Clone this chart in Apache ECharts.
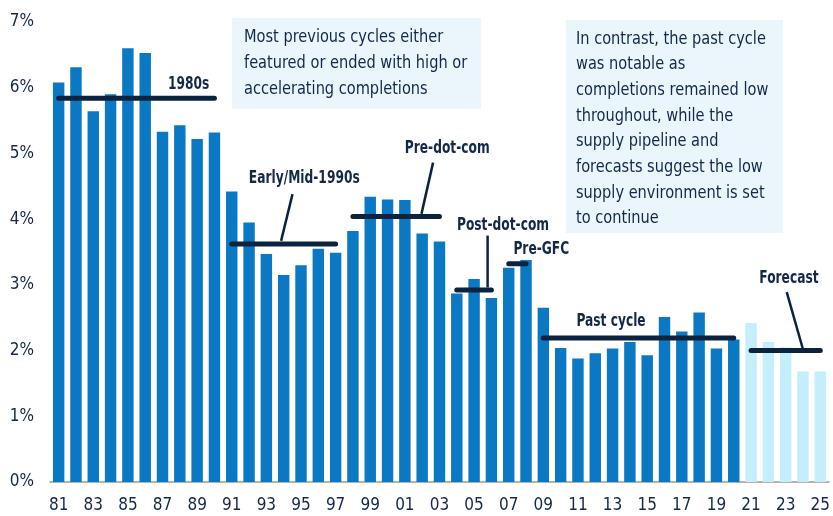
<!DOCTYPE html>
<html>
<head>
<meta charset="utf-8">
<script src="https://cdn.jsdelivr.net/npm/echarts@6/dist/echarts.min.js"></script>
<style>
  html, body { margin: 0; padding: 0; background: #fff; }
  #chart { width: 833px; height: 516px; }
</style>
</head>
<body>
<div id="chart"></div>
<script>
const categories = ['81', '82', '83', '84', '85', '86', '87', '88', '89', '90',
  '91', '92', '93', '94', '95', '96', '97', '98', '99', '00',
  '01', '02', '03', '04', '05', '06', '07', '08', '09', '10',
  '11', '12', '13', '14', '15', '16', '17', '18', '19', '20',
  '21', '22', '23', '24', '25']

// completions as % of stock
const completions = [6.08, 6.31, 5.64, 5.90, 6.60, 6.53, 5.33, 5.43, 5.22, 5.32,
  4.42, 3.95, 3.47, 3.15, 3.30, 3.55, 3.49, 3.82, 4.34, 4.30,
  4.29, 3.78, 3.66, 2.87, 3.09, 2.80, 3.26, 3.38, 2.65, 2.04,
  1.88, 1.96, 2.03, 2.13, 1.93, 2.51, 2.29, 2.58, 2.03, 2.17,
  2.42, 2.13, 2.05, 1.68, 1.68]

const forecastFrom = '21'

const cycleNames = ['1980s', 'Early/Mid-1990s', 'Pre-dot-com', 'Post-dot-com', 'Pre-GFC', 'Past cycle', 'Forecast']
const cycleStart = ['81', '91', '98', '04', '07', '09', '21']
const cycleEnd = ['90', '97', '03', '06', '08', '20', '25']
const cycleAvg = [5.84, 3.62, 4.04, 2.92, 3.32, 2.19, 2.00]

const yTicks = [0, 1, 2, 3, 4, 5, 6, 7]

const NAVY = '#13284b'
const LINE = '#0c2340'
const FONT = "'Liberation Sans Narrow', 'DejaVu Sans Condensed', sans-serif"

// label anchors in data space: [category index, value]
const labelAnchors = [
  [7.51, 6.05], [14.19, 4.61], [22.45, 5.08], [25.67, 3.90],
  [27.88, 3.53], [31.91, 2.44], [42.19, 3.10],
]
// leader lines: [[ci, v], [ci, v]] or null
const leaders = [
  null,
  [[13.51, 4.38], [12.85, 3.67]],
  [[21.63, 4.86], [20.96, 4.08]],
  [[24.78, 3.75], [24.78, 2.96]],
  null,
  null,
  [[42.06, 2.89], [43.0, 2.02]],
]

const chart = echarts.init(document.getElementById('chart'))

const fIdx = categories.indexOf(forecastFrom)
const barData = completions.map((v, i) => ({
  value: v,
  itemStyle: { color: i >= fIdx ? '#c4eefb' : '#0a78c2' },
}))

const cycleSeries = cycleNames.map((name, k) => {
  const a = categories.indexOf(cycleStart[k])
  const b = categories.indexOf(cycleEnd[k])
  return {
    name,
    type: 'line',
    data: categories.map((c, i) => (i >= a && i <= b ? cycleAvg[k] : null)),
    showSymbol: false,
    silent: true,
    z: 5,
    lineStyle: { color: LINE, width: 5, cap: 'round' },
  }
})

chart.setOption({
  animation: false,
  textStyle: { fontFamily: FONT },
  grid: { left: 50, right: 2, top: 22, bottom: 34 },
  xAxis: {
    type: 'category',
    data: categories,
    axisTick: { show: false },
    axisLine: { lineStyle: { color: '#9a9a9a', width: 1.5 } },
    axisLabel: { interval: 1, color: NAVY, fontSize: 17, margin: 15, fontFamily: FONT },
  },
  yAxis: {
    type: 'value',
    min: yTicks[0],
    max: yTicks[yTicks.length - 1],
    interval: 1,
    splitLine: { show: false },
    axisLabel: { formatter: '{value}%', color: NAVY, fontSize: 17, margin: 16, fontFamily: FONT },
  },
  series: [
    {
      type: 'bar',
      data: barData,
      barWidth: '66%',
      z: 2,
    },
    ...cycleSeries,
  ],
})

function toPx(ci, v) {
  const i0 = Math.floor(ci)
  const x0 = chart.convertToPixel({ xAxisIndex: 0 }, i0)
  const x1 = chart.convertToPixel({ xAxisIndex: 0 }, i0 + 1)
  const y = chart.convertToPixel({ yAxisIndex: 0 }, v)
  return [x0 + (ci - i0) * (x1 - x0), y]
}

const graphics = [
  {
    type: 'rect',
    shape: { x: 232, y: 18, width: 249, height: 91 },
    style: { fill: '#eaf6fc' },
    z: 10,
  },
  {
    type: 'text',
    x: 244,
    y: 24,
    z: 11,
    scaleX: 0.9,
    style: {
      text: 'Most previous cycles either\nfeatured or ended with high or\naccelerating completions',
      font: '18px ' + FONT,
      fill: NAVY,
      lineHeight: 26,
      verticalAlign: 'top',
    },
  },
  {
    type: 'rect',
    shape: { x: 566, y: 20, width: 217, height: 213 },
    style: { fill: '#eaf6fc' },
    z: 10,
  },
  {
    type: 'text',
    x: 576,
    y: 26,
    z: 11,
    scaleX: 0.9,
    style: {
      text: 'In contrast, the past cycle\nwas notable as\ncompletions remained low\nthroughout, while the\nsupply pipeline and\nforecasts suggest the low\nsupply environment is set\nto continue',
      font: '18px ' + FONT,
      fill: NAVY,
      lineHeight: 25.7,
      verticalAlign: 'top',
    },
  },
]

cycleNames.forEach((name, k) => {
  const p = toPx(labelAnchors[k][0], labelAnchors[k][1])
  graphics.push({
    type: 'text',
    x: p[0],
    y: p[1],
    z: 12,
    scaleX: 0.8,
    style: {
      text: name,
      font: 'bold 17px ' + FONT,
      fill: NAVY,
      align: 'center',
      verticalAlign: 'middle',
    },
  })
  if (leaders[k]) {
    const s = toPx(leaders[k][0][0], leaders[k][0][1])
    const e = toPx(leaders[k][1][0], leaders[k][1][1])
    graphics.push({
      type: 'line',
      z: 12,
      shape: { x1: s[0], y1: s[1], x2: e[0], y2: e[1] },
      style: { stroke: LINE, lineWidth: 2.5 },
    })
  }
})

chart.setOption({ graphic: graphics })
</script>
</body>
</html>
